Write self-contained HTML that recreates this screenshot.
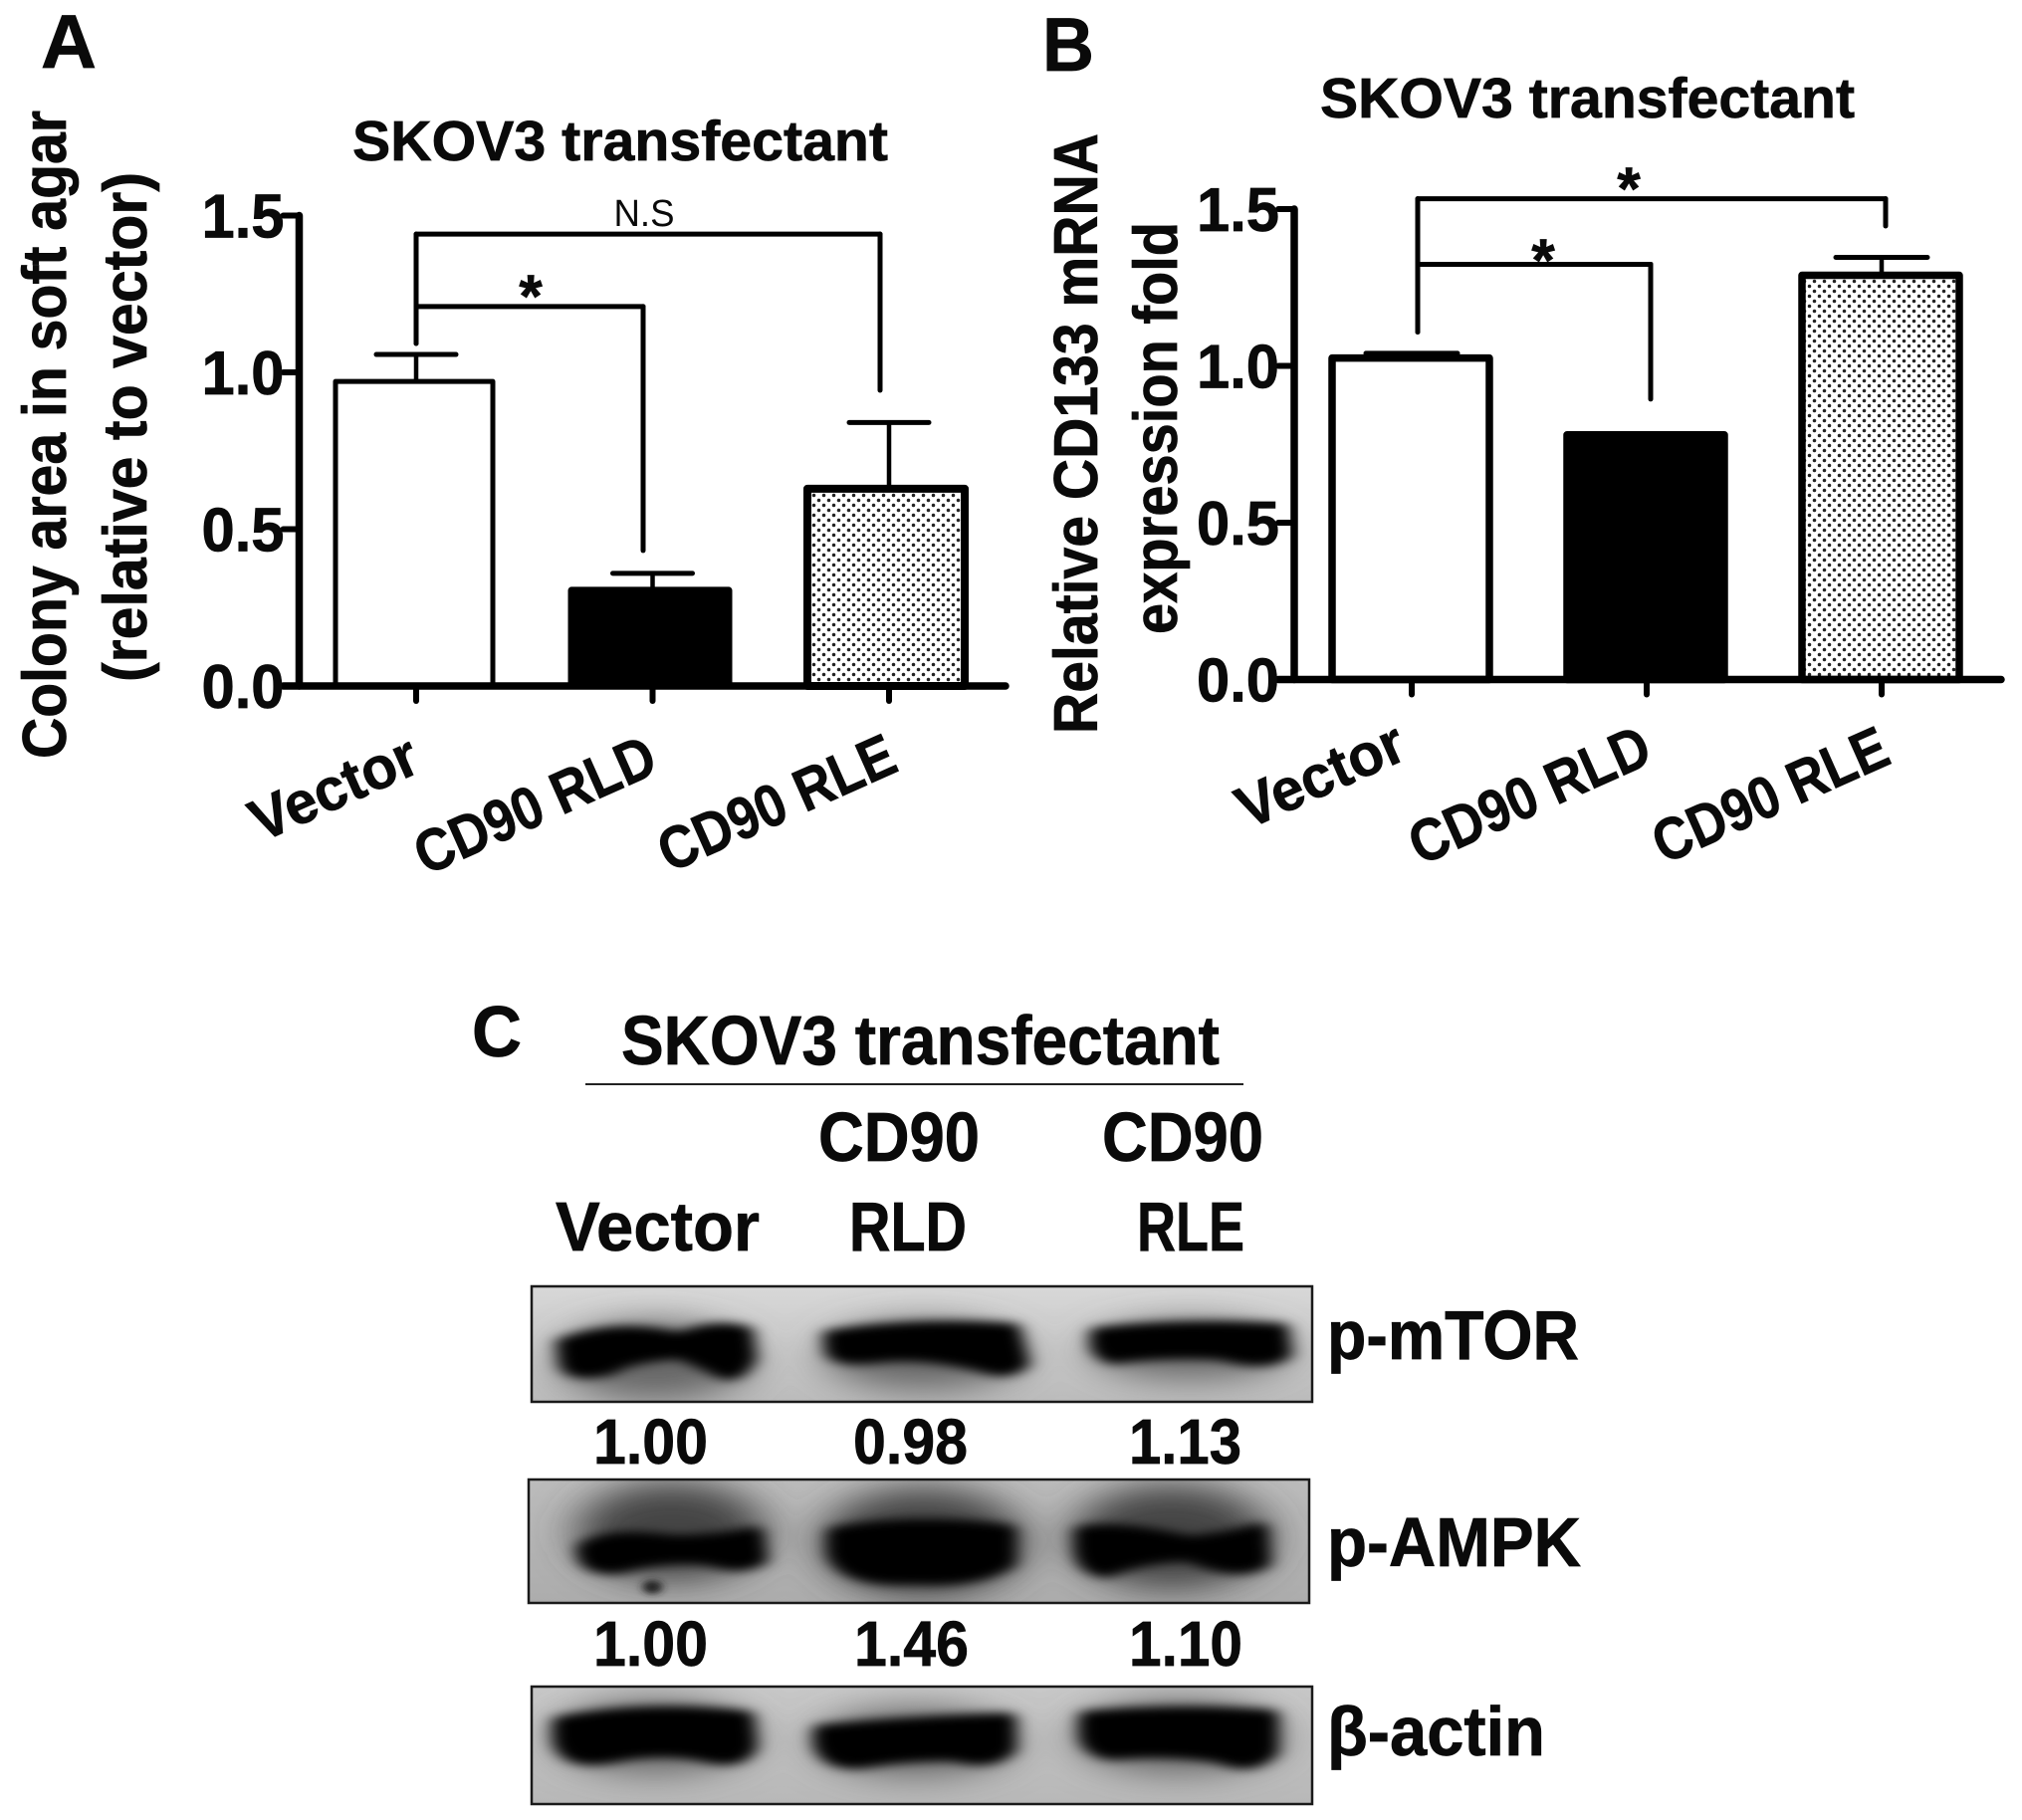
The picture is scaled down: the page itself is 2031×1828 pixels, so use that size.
<!DOCTYPE html>
<html lang="en">
<head>
<meta charset="utf-8">
<title>SKOV3 transfectant figure</title>
<style>
html,body{margin:0;padding:0;background:#fff;}
svg{display:block;}
text{font-family:"Liberation Sans",sans-serif;fill:#0a0a0a;font-weight:bold;stroke:#0a0a0a;stroke-width:0.7px;}
</style>
</head>
<body>
<svg id="fig" xmlns="http://www.w3.org/2000/svg" width="2031" height="1828" viewBox="0 0 2031 1828">
<defs>
  <pattern id="dots" patternUnits="userSpaceOnUse" width="10" height="10">
    <rect width="10" height="10" fill="#fff"/>
    <circle cx="2.5" cy="2.5" r="1.75" fill="#222"/>
    <circle cx="7.5" cy="7.5" r="1.75" fill="#222"/>
  </pattern>
  <filter id="bandBlur" filterUnits="userSpaceOnUse" x="0" y="400" width="1300" height="1300"><feGaussianBlur stdDeviation="11 9"/></filter>
  <filter id="haloBlur" filterUnits="userSpaceOnUse" x="0" y="400" width="1300" height="1300"><feGaussianBlur stdDeviation="30 30"/></filter>
  <filter id="dotBlur" filterUnits="userSpaceOnUse" x="0" y="400" width="1300" height="1300"><feGaussianBlur stdDeviation="6 6"/></filter>
  <linearGradient id="bg1" x1="0" y1="0" x2="0" y2="1"><stop offset="0" stop-color="#d8d8d8"/><stop offset="1" stop-color="#bcbcbc"/></linearGradient>
  <linearGradient id="bg2" x1="0" y1="0" x2="0" y2="1"><stop offset="0" stop-color="#bcbcbc"/><stop offset="1" stop-color="#acacac"/></linearGradient>
  <linearGradient id="bg3" x1="0" y1="0" x2="0" y2="1"><stop offset="0" stop-color="#c8c8c8"/><stop offset="1" stop-color="#b8b8b8"/></linearGradient>
  <clipPath id="clip1"><rect x="97" y="553" width="1023" height="219"/></clipPath>
  <clipPath id="clip2"><rect x="93" y="920" width="1023" height="237"/></clipPath>
  <clipPath id="clip3"><rect x="97" y="1316" width="1023" height="221"/></clipPath>
</defs>

<!-- Panel C western blot imagery -->
<g>
  <g transform="translate(460,1000) scale(0.766,0.528)" clip-path="url(#clip1)">
    <rect x="97" y="553" width="1023" height="219" fill="url(#bg1)"/>
    <g filter="url(#haloBlur)" fill="#666">
      <ellipse cx="258" cy="695" rx="125" ry="75"/>
      <ellipse cx="610" cy="685" rx="130" ry="65"/>
      <ellipse cx="960" cy="675" rx="130" ry="55"/>
    </g>
    <g filter="url(#bandBlur)" fill="#000" stroke="#000" stroke-width="18" stroke-linejoin="round">
      <path d="M138,660 Q210,622 290,650 Q340,622 378,638 L382,690 Q370,725 350,722 Q320,700 290,682 Q220,690 200,712 Q150,730 142,702 Z"/>
      <path d="M488,645 Q600,620 728,632 L740,700 Q720,725 690,708 Q620,682 560,688 Q490,702 490,672 Z"/>
      <path d="M838,640 Q950,622 1080,632 L1084,682 Q1060,708 1000,684 Q920,678 860,692 Q838,684 838,660 Z"/>
    </g>
  </g>
  <rect x="534" y="1292" width="784" height="116" fill="none" stroke="#1a1a1a" stroke-width="2.5"/>
</g>

<g>
  <g transform="translate(460,1000) scale(0.766,0.528)" clip-path="url(#clip2)">
    <rect x="93" y="920" width="1023" height="237" fill="url(#bg2)"/>
    <g filter="url(#haloBlur)" fill="#444">
      <ellipse cx="280" cy="1020" rx="125" ry="95"/>
      <ellipse cx="610" cy="1040" rx="135" ry="105"/>
      <ellipse cx="935" cy="1030" rx="130" ry="100"/>
    </g>
    <g filter="url(#bandBlur)" fill="#000" stroke="#000" stroke-width="24" stroke-linejoin="round">
      <path d="M168,1050 Q200,1022 280,1038 Q340,1038 388,1022 L394,1072 Q370,1092 330,1072 Q270,1062 210,1088 Q170,1092 168,1062 Z"/>
      <path d="M496,1022 Q600,995 720,1018 L720,1078 Q680,1115 600,1108 Q510,1115 496,1062 Z"/>
      <path d="M820,1020 Q870,1010 960,1040 Q1020,1030 1050,1015 L1054,1078 Q1020,1104 960,1064 Q900,1064 850,1095 Q820,1090 820,1050 Z"/>
    </g>
    <ellipse cx="255" cy="1125" rx="13" ry="13" fill="#222" filter="url(#dotBlur)"/>
  </g>
  <rect x="531" y="1486" width="784" height="124" fill="none" stroke="#1a1a1a" stroke-width="2.5"/>
</g>

<g>
  <g transform="translate(460,1000) scale(0.766,0.528)" clip-path="url(#clip3)">
    <rect x="97" y="1316" width="1023" height="221" fill="url(#bg3)"/>
    <g filter="url(#haloBlur)" fill="#666">
      <ellipse cx="258" cy="1410" rx="130" ry="70"/>
      <ellipse cx="600" cy="1420" rx="130" ry="65"/>
      <ellipse cx="945" cy="1410" rx="135" ry="70"/>
    </g>
    <g filter="url(#bandBlur)" fill="#000" stroke="#000" stroke-width="24" stroke-linejoin="round">
      <path d="M136,1382 Q250,1352 376,1372 L380,1428 Q370,1464 320,1444 Q260,1428 200,1448 Q140,1464 136,1412 Z"/>
      <path d="M478,1398 Q600,1382 720,1376 L720,1432 Q700,1464 650,1444 Q580,1444 530,1458 Q485,1464 478,1422 Z"/>
      <path d="M826,1372 Q950,1358 1064,1370 L1064,1438 Q1040,1474 1000,1448 Q930,1432 860,1442 Q826,1438 826,1400 Z"/>
    </g>
  </g>
  <rect x="534" y="1694" width="784" height="118" fill="none" stroke="#1a1a1a" stroke-width="2.5"/>
</g>

<!-- Panel labels and blot text -->
<text x="41" y="68" font-size="76" textLength="56" lengthAdjust="spacingAndGlyphs">A</text>
<text x="1047" y="71" font-size="76" textLength="52" lengthAdjust="spacingAndGlyphs">B</text>
<text x="474" y="1061" font-size="72" textLength="50" lengthAdjust="spacingAndGlyphs">C</text>
<text x="624" y="1069" font-size="70" textLength="601" lengthAdjust="spacingAndGlyphs">SKOV3 transfectant</text>
<rect x="588" y="1088" width="661" height="2" fill="#222"/>
<text x="822" y="1166" font-size="70" textLength="162" lengthAdjust="spacingAndGlyphs">CD90</text>
<text x="1107" y="1166" font-size="70" textLength="162" lengthAdjust="spacingAndGlyphs">CD90</text>
<text x="558" y="1256" font-size="70" textLength="205" lengthAdjust="spacingAndGlyphs">Vector</text>
<text x="853" y="1256" font-size="70" textLength="118" lengthAdjust="spacingAndGlyphs">RLD</text>
<text x="1142" y="1256" font-size="70" textLength="108" lengthAdjust="spacingAndGlyphs">RLE</text>
<text x="1333" y="1365" font-size="70" textLength="253" lengthAdjust="spacingAndGlyphs">p-mTOR</text>
<text x="1333" y="1573" font-size="70" textLength="255" lengthAdjust="spacingAndGlyphs">p-AMPK</text>
<text x="1333" y="1763" font-size="70" textLength="219" lengthAdjust="spacingAndGlyphs">β-actin</text>
<text x="596" y="1470" font-size="64" textLength="115" lengthAdjust="spacingAndGlyphs">1.00</text>
<text x="857" y="1470" font-size="64" textLength="115" lengthAdjust="spacingAndGlyphs">0.98</text>
<text x="1134" y="1470" font-size="64" textLength="113" lengthAdjust="spacingAndGlyphs">1.13</text>
<text x="596" y="1673" font-size="64" textLength="115" lengthAdjust="spacingAndGlyphs">1.00</text>
<text x="858" y="1673" font-size="64" textLength="115" lengthAdjust="spacingAndGlyphs">1.46</text>
<text x="1134" y="1673" font-size="64" textLength="114" lengthAdjust="spacingAndGlyphs">1.10</text>
</svg>

<script>
// ---------- chart data ----------
var categories = ['Vector', 'CD90 RLD', 'CD90 RLE'];
var yTickValues = [0, 0.5, 1.0, 1.5];
var yTickLabels = ['0.0', '0.5', '1.0', '1.5'];

var colonyAreaMeans = [0.971, 0.305, 0.629];
var colonyAreaErrorTops = [1.057, 0.359, 0.840];

var cd133FoldMeans = [1.025, 0.780, 1.289];
var cd133FoldErrorTops = [1.040, 0.780, 1.346];

// significance brackets: level, right drop end, left stem end, label
var colonyBracketLevels = [1.441, 1.210];
var colonyBracketDrops = [0.943, 0.432];
var colonyBracketStems = [1.092, 1.092];
var colonyBracketLabels = ['N.S', '*'];

var cd133BracketLevels = [1.533, 1.324];
var cd133BracketDrops = [1.446, 0.894];
var cd133BracketStems = [1.108, 1.108];
var cd133BracketLabels = ['*', '*'];
// ---------- end data ----------

var svg = document.getElementById('fig');
var NS = 'http://www.w3.org/2000/svg';

function make(tag, attrs, parent) {
  var el = document.createElementNS(NS, tag);
  for (var k in attrs) el.setAttribute(k, attrs[k]);
  (parent || svg).appendChild(el);
  return el;
}

function addLine(group, x1, y1, x2, y2, w, name) {
  var el = make('line', {x1: x1, y1: y1, x2: x2, y2: y2, stroke: '#000', 'stroke-width': w, 'stroke-linecap': 'round'}, group);
  
  
  return el;
}

function addText(group, str, attrs, name) {
  var el = make('text', attrs, group);
  el.textContent = str;
  
  
  return el;
}

function drawPanel(p) {
  var g = make('g', {}, svg);
  
  

  function yScale(v) { return p.y0 - v * p.unit; }
  function tickX(i) { return p.tickX0 + i * p.tickStep; }
  function barX(i) { return p.barX0 + i * p.barStep; }

  // bars
  p.means.forEach(function (v, i) {
    var top = yScale(v);
    var sw = p.barStroke[i];
    var fill = i === 0 ? '#fff' : (i === 1 ? '#000' : 'url(#dots)');
    var bar = make('rect', {x: barX(i) - p.barHalf, y: top, width: p.barHalf * 2, height: p.y0 - top,
      fill: fill, stroke: '#000', 'stroke-width': sw, 'stroke-linejoin': 'round'}, g);
    
    

    var errTop = yScale(p.errTops[i]);
    if (p.errTops[i] > v) {
      addLine(g, tickX(i), top, tickX(i), errTop, 4.5, 'error-stem-' + i);
      addLine(g, tickX(i) - p.capHalf, errTop, tickX(i) + p.capHalf, errTop, 5, 'error-cap-' + i);
    }
  });

  // axes
  addLine(g, p.axisX, yScale(1.5), p.axisX, p.y0, 7.5, 'y-axis-line');
  addLine(g, p.axisX - 16, p.y0, p.xEnd, p.y0, 7.5, 'x-axis-line');

  yTickValues.forEach(function (v, i) {
    addLine(g, p.axisX - 16, yScale(v), p.axisX, yScale(v), 6, 'y-tick-' + yTickLabels[i]);
    addText(g, yTickLabels[i], {x: p.axisX - 98, y: yScale(v) + 22, 'font-size': 62,
      textLength: 83, lengthAdjust: 'spacingAndGlyphs'}, 'y-tick-label-' + yTickLabels[i]);
  });

  categories.forEach(function (c, i) {
    addLine(g, tickX(i), p.y0, tickX(i), p.y0 + 15, 6, 'x-tick-' + i);
    addText(g, c, {transform: 'translate(' + p.labelCx[i] + ',' + p.labelCy[i] + ') rotate(-24)',
      x: 0, y: 21, 'font-size': 60, 'text-anchor': 'middle',
      textLength: p.labelLen[i], lengthAdjust: 'spacingAndGlyphs'}, 'x-tick-label-' + c.toLowerCase().replace(' ', '-'));
  });

  // significance brackets
  p.bracketLevels.forEach(function (lvl, i) {
    var yL = yScale(lvl);
    var xL = p.bracketX0;
    var xR = xL + p.bracketSpan[i];
    addLine(g, xL, yL, xL, yScale(p.bracketStems[i]), 5, 'bracket-stem-' + i);
    addLine(g, xL, yL, xR, yL, 5, 'bracket-bar-' + i);
    addLine(g, xR, yL, xR, yScale(p.bracketDrops[i]), 5, 'bracket-drop-' + i);
    var lab = p.bracketLabels[i];
    if (lab === '*') {
      addText(g, '*', {x: p.starX[i], y: p.starY[i] + 34, 'font-size': 60, 'text-anchor': 'middle'}, 'significance-star-' + i);
    } else {
      addText(g, lab, {x: p.starX[i], y: p.starY[i] + 14, 'font-size': 38, 'text-anchor': 'middle',
        style: 'font-weight:normal;stroke-width:0', textLength: 61, lengthAdjust: 'spacingAndGlyphs'}, 'not-significant-label');
    }
  });

  // title
  addText(g, 'SKOV3 transfectant', {x: p.titleX, y: p.titleY, 'font-size': 57,
    textLength: p.titleLen, lengthAdjust: 'spacingAndGlyphs'}, 'chart-title');

  // y titles
  p.yTitles.forEach(function (t, i) {
    addText(g, t.text, {transform: 'translate(' + t.x + ',' + t.y + ') rotate(-90)', x: 0, y: 0,
      'font-size': 62, textLength: t.len, lengthAdjust: 'spacingAndGlyphs'}, 'y-axis-title-line-' + (i + 1));
  });
}

drawPanel({
  name: 'chart-colony-area',
  means: colonyAreaMeans, errTops: colonyAreaErrorTops,
  y0: 689, unit: 315, axisX: 300.5, xEnd: 1010,
  tickX0: 418, tickStep: 237.5, barX0: 416, barStep: 237, barHalf: 79, capHalf: 40,
  barStroke: [5, 7, 8],
  labelCx: [335, 537, 780], labelCy: [791, 808, 806], labelLen: [178, 258, 254],
  bracketLevels: colonyBracketLevels, bracketDrops: colonyBracketDrops, bracketStems: colonyBracketStems,
  bracketLabels: colonyBracketLabels, bracketX0: 418, bracketSpan: [466, 228],
  starX: [647, 533], starY: [213, 284],
  titleX: 354, titleY: 161, titleLen: 538,
  yTitles: [
    {text: 'Colony area in soft agar', x: 66, y: 762, len: 651},
    {text: '(relative to vector)', x: 147, y: 685, len: 512}
  ]
});

drawPanel({
  name: 'chart-cd133-expression',
  means: cd133FoldMeans, errTops: cd133FoldErrorTops,
  y0: 682.5, unit: 315, axisX: 1300, xEnd: 2010,
  tickX0: 1418, tickStep: 236, barX0: 1417, barStep: 236, barHalf: 79, capHalf: 46,
  barStroke: [7.5, 7.5, 7.5],
  labelCx: [1326, 1536, 1778], labelCy: [778, 798, 798], labelLen: [178, 258, 252],
  bracketLevels: cd133BracketLevels, bracketDrops: cd133BracketDrops, bracketStems: cd133BracketStems,
  bracketLabels: cd133BracketLabels, bracketX0: 1424, bracketSpan: [470, 234],
  starX: [1636, 1550], starY: [176, 248],
  titleX: 1326, titleY: 118, titleLen: 537,
  yTitles: [
    {text: 'Relative CD133 mRNA', x: 1102, y: 737, len: 603},
    {text: 'expression fold', x: 1182, y: 637, len: 414}
  ]
});
</script>
</body>
</html>
